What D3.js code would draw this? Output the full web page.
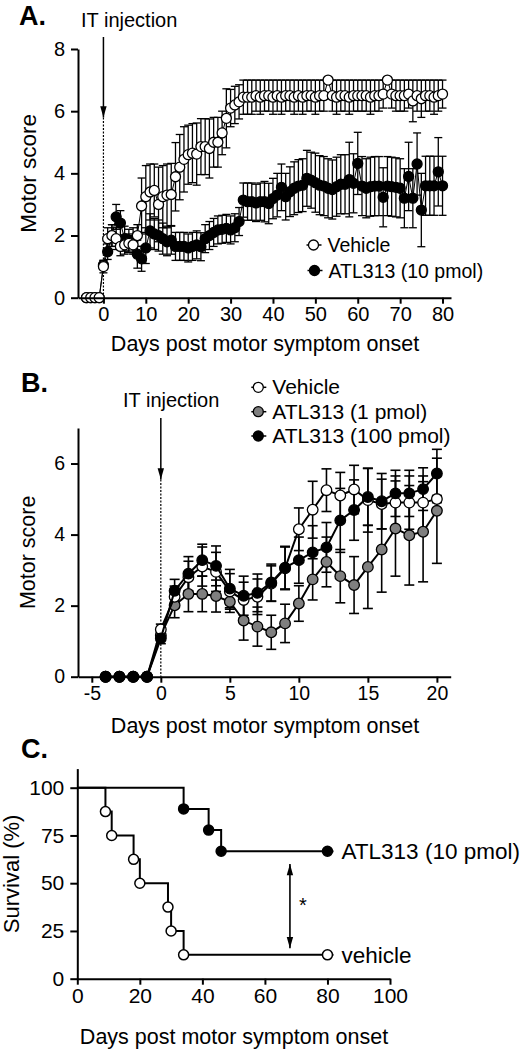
<!DOCTYPE html>
<html><head><meta charset="utf-8">
<script src="https://cdn.jsdelivr.net/npm/d3@7"></script>
<style>
body{margin:0;background:#fff}
svg{display:block}
text{font-family:"Liberation Sans",Arial,Helvetica,sans-serif;fill:#000}
</style>
</head><body>
<svg id="c" width="527" height="1050"></svg>
<script>
// ---------- Panel A data (days -4..80) ----------
const daysA = [-4,-3,-2,-1,0,1,2,3,4,5,6,7,8,9,10,11,12,13,14,15,16,17,18,19,20,21,22,23,24,25,26,27,28,29,30,31,32,33,34,35,36,37,38,39,40,41,42,43,44,45,46,47,48,49,50,51,52,53,54,55,56,57,58,59,60,61,62,63,64,65,66,67,68,69,70,71,72,73,74,75,76,77,78,79,80];
const vehA = [0,0,0,0,
 1.0,1.9,2.0,1.9,1.65,1.7,1.75,1.7,2.0,2.95,
 3.25,3.4,3.45,3.0,3.25,3.3,3.32,3.89,4.2,4.45,
 4.6,4.65,4.62,4.86,4.86,4.8,5.0,5.0,5.3,5.77,
 6.1,6.2,6.3,6.45,6.45,6.45,6.5,6.45,6.5,6.5,
 6.45,6.5,6.45,6.5,6.5,6.45,6.5,6.45,6.5,6.5,
 6.45,6.5,6.5,7.0,6.5,6.45,6.5,6.5,6.45,6.5,
 6.5,6.5,6.5,6.45,6.5,6.5,6.55,7.0,6.55,6.5,
 6.5,6.5,6.55,6.33,6.5,6.4,6.5,6.5,6.45,6.5,
 6.55];
const vehAsem = [0,0,0,0,
 0.2,0.35,0.35,0.35,0.3,0.3,0.3,0.3,0.35,0.9,
 1.0,0.9,0.85,1.2,1.0,1.0,1.0,1.1,1.05,1.05,
 0.95,0.95,1.0,0.9,0.9,0.95,0.8,0.8,0.7,0.95,
 0.6,0.6,0.55,0.55,0.55,0.55,0.5,0.55,0.5,0.5,
 0.55,0.5,0.55,0.5,0.5,0.55,0.5,0.55,0.5,0.5,
 0.55,0.5,0.5,0,0.5,0.55,0.5,0.5,0.55,0.5,
 0.5,0.5,0.5,0.55,0.5,0.5,0.45,0,0.45,0.5,
 0.5,0.5,0.45,0.67,0.5,0.6,0.5,0.5,0.55,0.5,
 0.45];
const atlA = [0,0,0,0,
 1.05,1.48,2.0,2.6,2.4,1.9,1.85,1.85,1.4,1.25,
 1.6,2.15,2.05,2.0,1.9,1.8,1.85,1.65,1.65,1.65,
 1.6,1.65,1.7,1.64,1.9,2.0,2.1,2.18,2.2,2.23,
 2.18,2.25,2.45,3.14,3.09,3.09,3.05,3.09,3.09,3.03,
 3.19,3.3,3.55,3.25,3.41,3.52,3.59,3.62,3.84,3.78,
 3.7,3.62,3.59,3.52,3.48,3.57,3.65,3.65,3.8,3.68,
 4.32,3.59,3.52,3.57,3.59,3.59,3.23,3.59,3.57,3.55,
 3.52,3.2,3.9,3.2,4.3,2.82,3.6,3.6,3.6,4.05,
 3.6];
const atlAsem = [0,0,0,0,
 0.15,0.25,0.35,0.4,0.4,0.4,0.35,0.4,0.45,0.4,
 0.5,0.55,0.5,0.5,0.5,0.45,0.45,0.45,0.45,0.45,
 0.45,0.45,0.45,0.45,0.45,0.45,0.45,0.45,0.45,0.45,
 0.45,0.45,0.45,0.55,0.6,0.6,0.6,0.6,0.65,0.65,
 0.65,0.7,0.75,0.75,0.8,0.85,0.85,0.85,0.9,0.9,
 0.95,0.95,0.95,0.95,0.95,0.95,0.95,0.95,1.2,0.95,
 1.0,0.95,0.95,0.95,0.95,0.95,0.95,0.95,0.95,0.95,
 0.95,0.95,1.1,0.95,1.0,1.18,0.95,0.95,0.95,1.1,
 0.95];
const xTicksA = [0,10,20,30,40,50,60,70,80];
const yTicksA = [0,2,4,6,8];

// ---------- Panel B data (days -4..20) ----------
const daysB = [-4,-3,-2,-1,0,1,2,3,4,5,6,7,8,9,10,11,12,13,14,15,16,17,18,19,20];
const vehB = [0,0,0,0,1.33,2.25,2.8,3.1,2.95,2.4,2.16,2.25,2.62,3.05,4.15,4.7,5.25,5.1,5.27,4.97,4.86,4.9,4.9,4.9,5.0];
const vehBsem = [0,0,0,0,0.15,0.3,0.45,0.55,0.55,0.5,0.5,0.5,0.5,0.6,0.6,0.8,0.6,0.65,0.68,0.9,0.7,0.75,0.75,0.75,0.1];
const lowB = [0,0,0,0,1.17,2.01,2.33,2.33,2.27,2.11,1.58,1.41,1.25,1.5,2.06,2.74,3.23,2.83,2.58,3.09,3.58,4.17,3.98,4.08,4.67];
const lowBsem = [0,0,0,0,0.15,0.35,0.5,0.5,0.45,0.3,0.55,0.55,0.48,0.54,0.5,0.58,0.7,0.75,0.8,1.17,1.2,1.34,1.4,1.41,1.48];
const highB = [0,0,0,0,1.08,2.42,2.9,3.28,3.12,2.48,2.28,2.36,2.65,3.07,3.28,3.5,3.64,4.4,4.69,5.06,4.94,5.16,5.16,5.28,5.72];
const highBsem = [0,0,0,0,0.15,0.32,0.48,0.45,0.56,0.54,0.55,0.53,0.52,0.6,0.65,0.75,0.7,0.9,0.85,0.8,0.78,0.65,0.65,0.6,0.68];
const xTicksB = [-5,0,5,10,15,20];
const yTicksB = [0,2,4,6];

// ---------- Panel C data (Kaplan-Meier) ----------
const vehCtime = [0,9,11,18,20,29,30,34,80];
const vehCsurv = [100,87.5,75,62.5,50,37.5,25,12.5,12.5];
const atlCtime = [0,34,42,46,80];
const atlCsurv = [100,88.9,77.8,66.7,66.7];
const xTicksC = [0,20,40,60,80,100];
const yTicksC = [0,25,50,75,100];

// ---------- drawing ----------
const svg = d3.select("#c");
const defs = svg.append("defs");
defs.append("marker").attr("id","ah2").attr("viewBox","0 0 14 10").attr("refX",14).attr("refY",5)
  .attr("markerWidth",14).attr("markerHeight",8).attr("markerUnits","userSpaceOnUse").attr("orient","auto-start-reverse")
  .append("path").attr("d","M0,1L14,5L0,9Z").attr("fill","#000");

const fmt = d => String(d);
function axes(g, x, y, xt, yt, fs) {
  const ax = g.append("g").attr("transform",`translate(0,${y.range()[0]})`)
    .call(d3.axisBottom(x).tickValues(xt).tickFormat(fmt).tickSize(6).tickSizeOuter(0).tickPadding(3));
  const ay = g.append("g").attr("transform",`translate(${x.range()[0]},0)`)
    .call(d3.axisLeft(y).tickValues(yt).tickFormat(fmt).tickSize(7).tickSizeOuter(0).tickPadding(6));
  [ax, ay].forEach(a => {
    a.select(".domain").attr("stroke","#000").attr("stroke-width",2);
    a.selectAll(".tick line").attr("stroke","#000").attr("stroke-width",2);
    a.selectAll(".tick text").attr("font-size",fs).attr("fill","#000")
      .attr("font-family",'"Liberation Sans",Arial,sans-serif');
  });
}
function errBars(g, x, y, xs, m, s, cap, sw) {
  const gg = g.append("g").attr("stroke","#000").attr("stroke-width",sw).attr("fill","none");
  xs.forEach((d,i) => {
    if (!s[i]) return;
    const px = x(d), y1 = y(m[i]-s[i]), y2 = y(m[i]+s[i]);
    gg.append("line").attr("x1",px).attr("x2",px).attr("y1",y1).attr("y2",y2);
    gg.append("line").attr("x1",px-cap/2).attr("x2",px+cap/2).attr("y1",y1).attr("y2",y1);
    gg.append("line").attr("x1",px-cap/2).attr("x2",px+cap/2).attr("y1",y2).attr("y2",y2);
  });
}
function series(g, x, y, xs, m, fill, lw, r) {
  const pts = xs.map((d,i)=>[d,m[i]]);
  g.append("path").attr("d", d3.line().x(d=>x(d[0])).y(d=>y(d[1]))(pts))
    .attr("fill","none").attr("stroke","#000").attr("stroke-width",lw);
  g.selectAll(null).data(pts).enter().append("circle")
    .attr("cx",d=>x(d[0])).attr("cy",d=>y(d[1])).attr("r",r)
    .attr("fill",fill).attr("stroke","#000").attr("stroke-width",1.3);
}
function legendItem(g, cx, cy, fill, label, fs, r) {
  g.append("line").attr("x1",cx-7).attr("x2",cx+8).attr("y1",cy).attr("y2",cy).attr("stroke","#000").attr("stroke-width",1.5);
  g.append("circle").attr("cx",cx).attr("cy",cy).attr("r",r).attr("fill",fill).attr("stroke","#000").attr("stroke-width",1.3);
  g.append("text").attr("x",cx+14).attr("y",cy+7).attr("font-size",fs).text(label);
}

// ===== Panel A =====
{
  const g = svg.append("g");
  const x = d3.scaleLinear([-6,82],[78,451]);
  const y = d3.scaleLinear([0,8],[297.7,49]);
  g.append("text").attr("x",19).attr("y",25).attr("font-size",27).attr("font-weight","bold").text("A.");
  g.append("text").attr("x",81).attr("y",27).attr("font-size",20).text("IT injection");
  g.append("line").attr("x1",x(0)).attr("x2",x(0)).attr("y1",37).attr("y2",y(5.8))
    .attr("stroke","#000").attr("stroke-width",1.5).attr("marker-end","url(#ah2)");
  g.append("line").attr("x1",x(0)).attr("x2",x(0)).attr("y1",y(5.8)).attr("y2",y(0))
    .attr("stroke","#000").attr("stroke-width",1.2).attr("stroke-dasharray","2,1.5");
  errBars(g, x, y, daysA, vehA, vehAsem, 8, 1.3);
  errBars(g, x, y, daysA, atlA, atlAsem, 8, 1.3);
  series(g, x, y, daysA, atlA, "#000", 1, 5);
  series(g, x, y, daysA, vehA, "#fff", 1, 5);
  axes(g, x, y, xTicksA, yTicksA, 20);
  g.append("text").attr("x",265).attr("y",351).attr("text-anchor","middle").attr("font-size",21.5).text("Days post motor symptom onset");
  g.append("text").attr("transform",`translate(36,${(49+297.7)/2}) rotate(-90)`).attr("text-anchor","middle").attr("font-size",22.5).text("Motor score");
  legendItem(g, 313.5, 245, "#fff", "Vehicle", 19.5, 5);
  legendItem(g, 314.5, 270.5, "#000", "ATL313 (10 pmol)", 19.5, 5);
}

// ===== Panel B =====
{
  const g = svg.append("g");
  const x = d3.scaleLinear([-6,21],[78,450.7]);
  const y = d3.scaleLinear([0,7],[676.7,428]);
  g.append("text").attr("x",21).attr("y",392).attr("font-size",27).attr("font-weight","bold").text("B.");
  g.append("text").attr("x",123).attr("y",406.5).attr("font-size",20).text("IT injection");
  g.append("line").attr("x1",x(0)).attr("x2",x(0)).attr("y1",418).attr("y2",y(5.55))
    .attr("stroke","#000").attr("stroke-width",1.5).attr("marker-end","url(#ah2)");
  g.append("line").attr("x1",x(0)).attr("x2",x(0)).attr("y1",y(5.55)).attr("y2",y(0))
    .attr("stroke","#000").attr("stroke-width",1.2).attr("stroke-dasharray","2,1.5");
  errBars(g, x, y, daysB, lowB, lowBsem, 10, 1.6);
  errBars(g, x, y, daysB, vehB, vehBsem, 10, 1.6);
  errBars(g, x, y, daysB, highB, highBsem, 10, 1.6);
  series(g, x, y, daysB, lowB, "#7f7f7f", 2, 5.3);
  series(g, x, y, daysB, vehB, "#fff", 2, 5.3);
  series(g, x, y, daysB, highB, "#000", 2, 5.3);
  axes(g, x, y, xTicksB, yTicksB, 19.5);
  g.append("text").attr("x",265).attr("y",733).attr("text-anchor","middle").attr("font-size",21.5).text("Days post motor symptom onset");
  g.append("text").attr("transform",`translate(35,${(428+676.7)/2}) rotate(-90)`).attr("text-anchor","middle").attr("font-size",21.5).text("Motor score");
  legendItem(g, 258.3, 387.3, "#fff", "Vehicle", 21, 5);
  legendItem(g, 258.3, 411.7, "#7f7f7f", "ATL313 (1 pmol)", 21, 5);
  legendItem(g, 258.3, 436, "#000", "ATL313 (100 pmol)", 21, 5);
}

// ===== Panel C =====
{
  const g = svg.append("g");
  const x = d3.scaleLinear([0,100],[77.3,390]);
  const y = d3.scaleLinear([0,110],[978.7,768.6]);
  g.append("text").attr("x",21).attr("y",758).attr("font-size",27).attr("font-weight","bold").text("C.");
  const step = d3.line().curve(d3.curveStepAfter).x(d=>x(d[0])).y(d=>y(d[1]));
  [[vehCtime,vehCsurv,"#fff"],[atlCtime,atlCsurv,"#000"]].forEach(([t,s,f]) => {
    const pts = t.map((d,i)=>[d,s[i]]);
    g.append("path").attr("d",step(pts)).attr("fill","none").attr("stroke","#000").attr("stroke-width",2);
    const last = pts[pts.length-1];
    g.append("line").attr("x1",x(last[0])).attr("x2",x(last[0])+6).attr("y1",y(last[1])).attr("y2",y(last[1]))
      .attr("stroke","#000").attr("stroke-width",2);
    g.selectAll(null).data(pts.slice(1)).enter().append("circle")
      .attr("cx",d=>x(d[0])).attr("cy",d=>y(d[1])).attr("r",5)
      .attr("fill",f).attr("stroke","#000").attr("stroke-width",1.5);
  });
  axes(g, x, y, xTicksC, yTicksC, 21);
  g.append("line").attr("x1",x(68)).attr("x2",x(68)).attr("y1",y(60)).attr("y2",y(16))
    .attr("stroke","#000").attr("stroke-width",1.6)
    .attr("marker-start","url(#ah2)").attr("marker-end","url(#ah2)");
  g.append("text").attr("x",303).attr("y",912).attr("text-anchor","middle").attr("font-size",20).text("*");
  g.append("text").attr("x",341.5).attr("y",y(66.7)+8).attr("font-size",22.5).text("ATL313 (10 pmol)");
  g.append("text").attr("x",341.5).attr("y",y(12.5)+8).attr("font-size",22.5).text("vehicle");
  g.append("text").attr("x",234).attr("y",1044).attr("text-anchor","middle").attr("font-size",21.5).text("Days post motor symptom onset");
  g.append("text").attr("transform",`translate(19,${(769+978.7)/2}) rotate(-90)`).attr("text-anchor","middle").attr("font-size",22).text("Survival (%)");
}
</script>
</body></html>
